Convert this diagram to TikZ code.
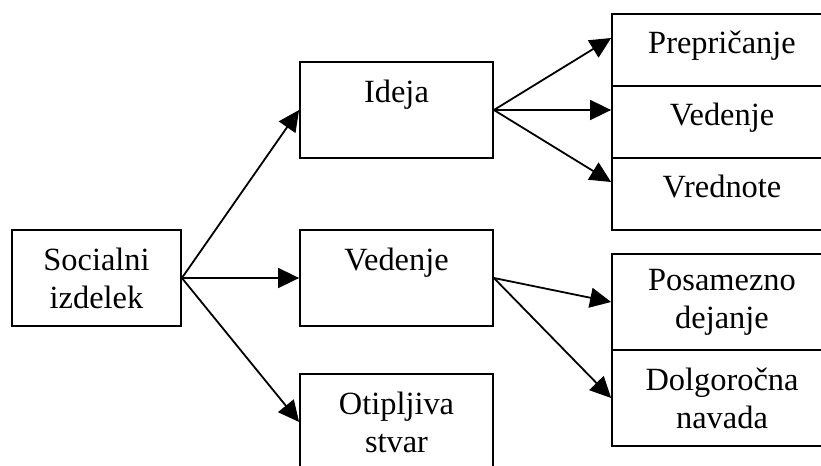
\documentclass[tikz,border=0pt]{standalone}
\usepackage{fontspec}
\setmainfont{Liberation Serif}
\usetikzlibrary{arrows.meta}

\begin{document}
\begin{tikzpicture}[x=0.5pt,y=-0.5pt,
  box/.style={draw, line width=0.9pt, rectangle, inner sep=0pt, align=center,
    font=\fontsize{16.2}{19}\selectfont},
  links/.style={box, minimum width=84.5pt, minimum height=48pt},
  mitte/.style={box, minimum width=96.5pt, minimum height=48pt},
  rechts/.style={box, minimum width=110pt, minimum height=36pt,
    text height=0.75em, text depth=0.35em},
  rechtshoch/.style={box, minimum width=110pt, minimum height=48pt},
  pfeil/.style={line width=0.9pt, -{Triangle[length=10.5pt,width=10pt]}}]
\useasboundingbox (0,0) rectangle (821,466);
\clip (0,0) rectangle (821,466);
% linke Spalte
\node[links] (soc) at (96.5,278) {Socialni\\izdelek};
% mittlere Spalte
\node[mitte] (ideja) at (396.5,110) {Ideja\\~};
\node[mitte] (ved) at (396.5,278) {Vedenje\\~};
\node[mitte] (otip) at (396.5,422) {Otipljiva\\stvar};
% rechte Spalte
\node[rechts] (pre) at (722,50) {Prepričanje};
\node[rechts] (rved) at (722,122) {Vedenje};
\node[rechts] (vred) at (722,194) {Vrednote};
\node[rechtshoch] (pos) at (722,302) {Posamezno\\dejanje};
\node[rechtshoch] (dolg) at (722,398) {Dolgoročna\\navada};
% Pfeile
\draw[pfeil] (soc.east) -- (ideja.west);
\draw[pfeil] (soc.east) -- (ved.west);
\draw[pfeil] (soc.east) -- (otip.west);
\draw[pfeil] (ideja.east) -- ([yshift=6pt]pre.west);
\draw[pfeil] (ideja.east) -- ([yshift=6pt]rved.west);
\draw[pfeil] (ideja.east) -- ([yshift=6pt]vred.west);
\draw[pfeil] (ved.east) -- (pos.west);
\draw[pfeil] (ved.east) -- (dolg.west);
\end{tikzpicture}
\end{document}
